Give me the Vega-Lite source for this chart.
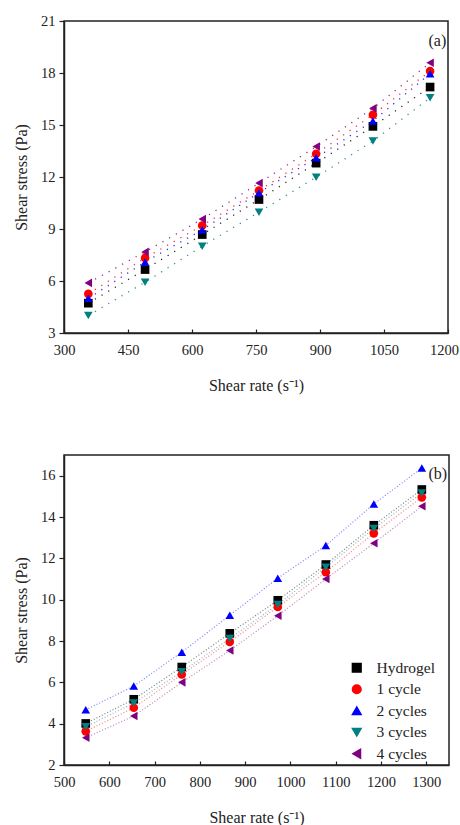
{
  "$schema": "https://vega.github.io/schema/vega-lite/v6.json",
  "padding": {"left": 12, "top": 12, "right": 0, "bottom": 4},
  "background": "white",
  "bounds": "flush",
  "spacing": 122,
  "config": {
    "font": "Liberation Serif",
    "view": {"stroke": "#222222", "strokeWidth": 1.5},
    "axis": {
      "grid": false, "domainColor": "#222222", "domainWidth": 1.5, "tickColor": "#222222", "tickWidth": 1.2,
      "labelFont": "Liberation Serif", "labelFontSize": 14.5, "labelColor": "#222222",
      "titleFont": "Liberation Serif", "titleFontSize": 16, "titleFontWeight": "normal", "titleColor": "#222222"
    },
    "legend": {"labelFont": "Liberation Serif", "labelFontSize": 15.5, "labelColor": "#222222", "symbolOpacity": 1}
  },
  "datasets": {
    "a": [
      {"series": "Hydrogel", "rate": 357, "stress": 4.72}, {"series": "Hydrogel", "rate": 490, "stress": 6.66}, {"series": "Hydrogel", "rate": 624, "stress": 8.68}, {"series": "Hydrogel", "rate": 757, "stress": 10.7}, {"series": "Hydrogel", "rate": 891, "stress": 12.8}, {"series": "Hydrogel", "rate": 1024, "stress": 14.92}, {"series": "Hydrogel", "rate": 1158, "stress": 17.19},
      {"series": "1 cycle", "rate": 357, "stress": 5.26}, {"series": "1 cycle", "rate": 490, "stress": 7.33}, {"series": "1 cycle", "rate": 624, "stress": 9.2}, {"series": "1 cycle", "rate": 757, "stress": 11.22}, {"series": "1 cycle", "rate": 891, "stress": 13.34}, {"series": "1 cycle", "rate": 1024, "stress": 15.59}, {"series": "1 cycle", "rate": 1158, "stress": 18.11},
      {"series": "2 cycles", "rate": 357, "stress": 5.0}, {"series": "2 cycles", "rate": 490, "stress": 7.1}, {"series": "2 cycles", "rate": 624, "stress": 8.95}, {"series": "2 cycles", "rate": 757, "stress": 11.09}, {"series": "2 cycles", "rate": 891, "stress": 13.11}, {"series": "2 cycles", "rate": 1024, "stress": 15.23}, {"series": "2 cycles", "rate": 1158, "stress": 17.96},
      {"series": "3 cycles", "rate": 357, "stress": 4.01}, {"series": "3 cycles", "rate": 490, "stress": 5.93}, {"series": "3 cycles", "rate": 624, "stress": 8.01}, {"series": "3 cycles", "rate": 757, "stress": 9.97}, {"series": "3 cycles", "rate": 891, "stress": 11.99}, {"series": "3 cycles", "rate": 1024, "stress": 14.07}, {"series": "3 cycles", "rate": 1158, "stress": 16.57},
      {"series": "4 cycles", "rate": 357, "stress": 5.89}, {"series": "4 cycles", "rate": 490, "stress": 7.68}, {"series": "4 cycles", "rate": 624, "stress": 9.57}, {"series": "4 cycles", "rate": 757, "stress": 11.65}, {"series": "4 cycles", "rate": 891, "stress": 13.76}, {"series": "4 cycles", "rate": 1024, "stress": 15.96}, {"series": "4 cycles", "rate": 1158, "stress": 18.59}
    ],
    "b": [
      {"series": "Hydrogel", "rate": 548, "stress": 4.01}, {"series": "Hydrogel", "rate": 654, "stress": 5.18}, {"series": "Hydrogel", "rate": 760, "stress": 6.74}, {"series": "Hydrogel", "rate": 866, "stress": 8.37}, {"series": "Hydrogel", "rate": 972, "stress": 9.97}, {"series": "Hydrogel", "rate": 1078, "stress": 11.7}, {"series": "Hydrogel", "rate": 1184, "stress": 13.6}, {"series": "Hydrogel", "rate": 1290, "stress": 15.33},
      {"series": "1 cycle", "rate": 548, "stress": 3.63}, {"series": "1 cycle", "rate": 654, "stress": 4.77}, {"series": "1 cycle", "rate": 760, "stress": 6.38}, {"series": "1 cycle", "rate": 866, "stress": 7.96}, {"series": "1 cycle", "rate": 972, "stress": 9.65}, {"series": "1 cycle", "rate": 1078, "stress": 11.33}, {"series": "1 cycle", "rate": 1184, "stress": 13.21}, {"series": "1 cycle", "rate": 1290, "stress": 14.95},
      {"series": "2 cycles", "rate": 548, "stress": 4.67}, {"series": "2 cycles", "rate": 654, "stress": 5.82}, {"series": "2 cycles", "rate": 760, "stress": 7.46}, {"series": "2 cycles", "rate": 866, "stress": 9.24}, {"series": "2 cycles", "rate": 972, "stress": 11.04}, {"series": "2 cycles", "rate": 1078, "stress": 12.62}, {"series": "2 cycles", "rate": 1184, "stress": 14.63}, {"series": "2 cycles", "rate": 1290, "stress": 16.37},
      {"series": "3 cycles", "rate": 548, "stress": 3.85}, {"series": "3 cycles", "rate": 654, "stress": 5.0}, {"series": "3 cycles", "rate": 760, "stress": 6.51}, {"series": "3 cycles", "rate": 866, "stress": 8.12}, {"series": "3 cycles", "rate": 972, "stress": 9.77}, {"series": "3 cycles", "rate": 1078, "stress": 11.57}, {"series": "3 cycles", "rate": 1184, "stress": 13.44}, {"series": "3 cycles", "rate": 1290, "stress": 15.16},
      {"series": "4 cycles", "rate": 548, "stress": 3.32}, {"series": "4 cycles", "rate": 654, "stress": 4.37}, {"series": "4 cycles", "rate": 760, "stress": 6.0}, {"series": "4 cycles", "rate": 866, "stress": 7.54}, {"series": "4 cycles", "rate": 972, "stress": 9.22}, {"series": "4 cycles", "rate": 1078, "stress": 11.0}, {"series": "4 cycles", "rate": 1184, "stress": 12.73}, {"series": "4 cycles", "rate": 1290, "stress": 14.52}
    ]
  },
  "resolve": {"scale": {"x": "independent", "y": "independent"}, "legend": {"color": "independent", "shape": "independent"}},
  "vconcat": [
    {
      "width": 384, "height": 312,
      "layer": [
        {
          "data": {"name": "a"},
          "mark": {"type": "line", "strokeDash": [1.2, 6.5], "strokeWidth": 1.3, "opacity": 0.85},
          "encoding": {
            "x": {"field": "rate", "type": "quantitative", "scale": {"domain": [300, 1200], "nice": false},
              "axis": {"values": [300,375,450,525,600,675,750,825,900,975,1050,1125,1200], "format": "d", "labelExpr": "datum.value % 150 == 0 ? datum.label : ''", "labelOffset": {"condition": {"test": "datum.value == 1200", "value": -4}, "value": 0}, "title": "Shear rate (s⁻¹)", "tickSize": -4, "labelPadding": 14, "titlePadding": 21, "labelFlush": false}},
            "y": {"field": "stress", "type": "quantitative", "scale": {"domain": [3, 21], "nice": false, "zero": false},
              "axis": {"values": [3,4.5,6,7.5,9,10.5,12,13.5,15,16.5,18,19.5,21], "labelExpr": "datum.value % 3 == 0 ? datum.label : ''", "title": "Shear stress (Pa)", "tickSize": 5, "labelPadding": 4, "titlePadding": 11, "labelFlush": false}},
            "color": {"field": "series", "type": "nominal", "scale": {"domain": ["Hydrogel","1 cycle","2 cycles","3 cycles","4 cycles"], "range": ["#000000","#FF0000","#0000FF","#008080","#800080"]}, "legend": null},
            "detail": {"field": "series"}
          }
        },
        {
          "data": {"name": "a"},
          "mark": {"type": "point", "filled": true, "opacity": 1, "size": 75},
          "encoding": {
            "x": {"field": "rate", "type": "quantitative"},
            "y": {"field": "stress", "type": "quantitative"},
            "color": {"field": "series", "type": "nominal", "scale": {"domain": ["Hydrogel","1 cycle","2 cycles","3 cycles","4 cycles"], "range": ["#000000","#FF0000","#0000FF","#008080","#800080"]}, "legend": null},
            "shape": {"field": "series", "type": "nominal", "scale": {"domain": ["Hydrogel","1 cycle","2 cycles","3 cycles","4 cycles"], "range": ["square","circle","triangle-up","triangle-down","triangle-left"]}, "legend": null}
          }
        },
        {
          "data": {"values": [{"label": "(a)", "rate": 1196, "stress": 19.85}]},
          "mark": {"type": "text", "align": "right", "baseline": "middle", "fontSize": 16, "font": "Liberation Serif", "color": "#222222"},
          "encoding": {
            "x": {"field": "rate", "type": "quantitative"},
            "y": {"field": "stress", "type": "quantitative"},
            "text": {"field": "label"}
          }
        }
      ]
    },
    {
      "width": 385, "height": 310,
      "layer": [
        {
          "data": {"name": "b"},
          "mark": {"type": "line", "strokeDash": [1, 2], "strokeWidth": 1.2, "opacity": 0.5},
          "encoding": {
            "x": {"field": "rate", "type": "quantitative", "scale": {"domain": [500, 1350], "nice": false},
              "axis": {"values": [500,550,600,650,700,750,800,850,900,950,1000,1050,1100,1150,1200,1250,1300,1350], "format": "d", "labelExpr": "datum.value % 100 == 0 ? datum.label : ''", "title": "Shear rate (s⁻¹)", "tickSize": -4, "labelPadding": 14, "titlePadding": 21, "labelFlush": false}},
            "y": {"field": "stress", "type": "quantitative", "scale": {"domain": [2, 17], "nice": false, "zero": false},
              "axis": {"values": [2,3,4,5,6,7,8,9,10,11,12,13,14,15,16,17], "labelExpr": "datum.value % 2 == 0 ? datum.label : ''", "title": "Shear stress (Pa)", "tickSize": 5, "labelPadding": 4, "titlePadding": 11, "labelFlush": false}},
            "color": {"field": "series", "type": "nominal", "scale": {"domain": ["Hydrogel","1 cycle","2 cycles","3 cycles","4 cycles"], "range": ["#000000","#FF0000","#0000FF","#008080","#800080"]},
              "legend": {"title": null, "orient": "none", "legendX": 285, "legendY": 205, "rowPadding": 4.5, "symbolSize": 75, "symbolOpacity": 1, "labelOffset": 12, "padding": 0, "labelFont": "Liberation Serif", "labelFontSize": 15.5}},
            "detail": {"field": "series"}
          }
        },
        {
          "data": {"name": "b"},
          "mark": {"type": "point", "filled": true, "opacity": 1, "size": 75},
          "encoding": {
            "x": {"field": "rate", "type": "quantitative"},
            "y": {"field": "stress", "type": "quantitative"},
            "color": {"field": "series", "type": "nominal", "scale": {"domain": ["Hydrogel","1 cycle","2 cycles","3 cycles","4 cycles"], "range": ["#000000","#FF0000","#0000FF","#008080","#800080"]},
              "legend": {"title": null, "orient": "none", "legendX": 285, "legendY": 205, "rowPadding": 4.5, "symbolSize": 75, "symbolOpacity": 1, "labelOffset": 12, "padding": 0, "labelFont": "Liberation Serif", "labelFontSize": 15.5}},
            "shape": {"field": "series", "type": "nominal", "scale": {"domain": ["Hydrogel","1 cycle","2 cycles","3 cycles","4 cycles"], "range": ["square","circle","triangle-up","triangle-down","triangle-left"]},
              "legend": {"title": null, "orient": "none", "legendX": 285, "legendY": 205, "rowPadding": 4.5, "symbolSize": 75, "symbolOpacity": 1, "labelOffset": 12, "padding": 0, "labelFont": "Liberation Serif", "labelFontSize": 15.5}}
          }
        },
        {
          "data": {"values": [{"label": "(b)", "rate": 1346, "stress": 16.07}]},
          "mark": {"type": "text", "align": "right", "baseline": "middle", "fontSize": 16, "font": "Liberation Serif", "color": "#222222"},
          "encoding": {
            "x": {"field": "rate", "type": "quantitative"},
            "y": {"field": "stress", "type": "quantitative"},
            "text": {"field": "label"}
          }
        }
      ]
    }
  ]
}
